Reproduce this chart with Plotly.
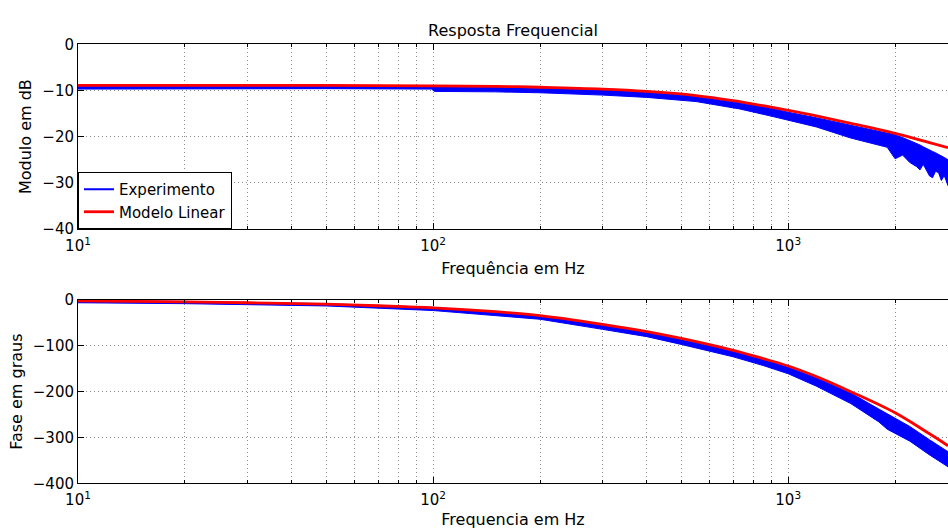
import plotly.graph_objects as go

# --- Frequency response data -------------------------------------------------
# Measured magnitude (dB): upper and lower edge of the noisy measurement band
freq_mag_exp = [10, 20, 50, 99, 101, 150, 200, 300, 400, 550, 730, 900, 1000,
                1200, 1500, 1700, 1900, 2000, 2100, 2200, 2300, 2350, 2400,
                2500, 2550, 2600, 2650, 2700, 2750, 2818]
mag_exp_hi = [-9.0, -9.0, -9.1, -9.1, -9.2, -9.3, -9.5, -9.9, -10.4, -11.3,
              -12.7, -13.9, -14.7, -15.9, -17.5, -18.4, -19.2, -19.6, -20.2,
              -20.8, -21.5, -21.8, -22.2, -23.0, -23.2, -23.5, -23.8, -24.2,
              -24.5, -25.0]
mag_exp_lo = [-9.7, -9.6, -9.6, -9.7, -10.2, -10.3, -10.5, -11.0, -11.5, -12.4,
              -14.0, -15.6, -16.4, -17.9, -20.3, -21.4, -22.3, -24.8, -24.0,
              -25.6, -26.5, -27.2, -26.0, -28.5, -28.9, -27.5, -27.8, -29.5,
              -28.4, -30.6]

# Measured phase (degrees): upper and lower edge of the measurement band
freq_ph_exp = [10, 20, 50, 100, 200, 300, 400, 500, 700, 850, 1000, 1200,
               1500, 1800, 1900, 2000, 2200, 2500, 2818]
ph_exp_hi = [-1, -3, -8, -16, -35, -55, -70, -86, -112, -130, -147, -170,
             -203, -238, -248, -258, -276, -305, -331]
ph_exp_lo = [-6, -8, -13, -23, -42, -64, -80, -97, -124, -143, -161, -188,
             -226, -266, -282, -290, -308, -338, -364]

# Linear model
freq_model = [10, 20, 50, 100, 150, 200, 300, 400, 550, 700, 850, 1000, 1200,
              1500, 2000, 2500, 2818]
mag_model = [-8.9, -8.9, -8.9, -9.0, -9.1, -9.3, -9.7, -10.2, -11.1, -12.2,
             -13.3, -14.3, -15.5, -17.1, -19.3, -21.3, -22.4]
freq_ph_model = [10, 20, 30, 50, 70, 100, 150, 200, 300, 400, 500, 700, 850,
                 1000, 1200, 1500, 2000, 2500, 2818]
ph_model = [-2, -4, -6, -9, -12.5, -17, -25.5, -34, -53, -69, -84, -110, -128,
            -144, -167, -200, -246, -292, -318]

# Axis ticks
major_x = [10, 100, 1000]
major_x_text = ["10<sup>1</sup>", "10<sup>2</sup>", "10<sup>3</sup>"]
minor_x = [20, 30, 40, 50, 60, 70, 80, 90,
           200, 300, 400, 500, 600, 700, 800, 900, 2000]
mag_ticks = [-40, -30, -20, -10, 0]
ph_ticks = [-400, -300, -200, -100, 0]

BLUE = "#0000ff"
RED = "#ff0000"
FONT = "DejaVu Sans"
W, H = 948, 529


def band(freqs, hi, lo):
    """Closed polygon around the measured band."""
    return list(freqs) + list(freqs)[::-1], list(hi) + list(lo)[::-1]


fig = go.Figure()

# Magnitude panel
bx, by = band(freq_mag_exp, mag_exp_hi, mag_exp_lo)
fig.add_trace(go.Scatter(x=bx, y=by, fill="toself", fillcolor=BLUE, mode="lines",
                         line=dict(color=BLUE, width=1), showlegend=False,
                         legendgroup="exp", hoverinfo="skip",
                         xaxis="x", yaxis="y"))
fig.add_trace(go.Scatter(x=freq_mag_exp,
                         y=[(a + b) / 2 for a, b in zip(mag_exp_hi, mag_exp_lo)],
                         mode="lines", line=dict(color=BLUE, width=2),
                         name="Experimento", legendgroup="exp",
                         xaxis="x", yaxis="y"))
fig.add_trace(go.Scatter(x=freq_model, y=mag_model, mode="lines",
                         line=dict(color=RED, width=2.8, shape="spline"),
                         name="Modelo Linear", xaxis="x", yaxis="y"))

# Phase panel
bx, by = band(freq_ph_exp, ph_exp_hi, ph_exp_lo)
fig.add_trace(go.Scatter(x=bx, y=by, fill="toself", fillcolor=BLUE, mode="lines",
                         line=dict(color=BLUE, width=1), showlegend=False,
                         hoverinfo="skip", xaxis="x2", yaxis="y2"))
fig.add_trace(go.Scatter(x=freq_ph_exp,
                         y=[(a + b) / 2 for a, b in zip(ph_exp_hi, ph_exp_lo)],
                         mode="lines", line=dict(color=BLUE, width=2),
                         showlegend=False, xaxis="x2", yaxis="y2"))
fig.add_trace(go.Scatter(x=freq_ph_model, y=ph_model, mode="lines",
                         line=dict(color=RED, width=2.8, shape="spline"),
                         showlegend=False, xaxis="x2", yaxis="y2"))

# Plot areas in pixels (top, bottom) converted to paper fractions
top_dom = [1 - 229 / H, 1 - 44.3 / H]
bot_dom = [1 - 483.3 / H, 1 - 300 / H]

grid = dict(showgrid=True, gridcolor="#8a8a8a", griddash="1px,3px", gridwidth=1)
tickfont = dict(family=FONT, size=15, color="black")
titlefont = dict(family=FONT, size=16, color="black")


def xaxis(anchor, title, standoff):
    return dict(type="log", range=[1, 3.45], domain=[0, 1], anchor=anchor,
                tickmode="array", tickvals=major_x, ticktext=major_x_text,
                ticks="inside", ticklen=6, tickcolor="black", tickwidth=1,
                showline=True, linecolor="black", linewidth=1, mirror="ticks",
                tickfont=tickfont, automargin=False, ticklabelstandoff=3,
                title=dict(text=title, font=titlefont, standoff=standoff),
                minor=dict(tickvals=minor_x, ticks="inside", ticklen=3,
                           tickcolor="black", **grid),
                zeroline=False, **grid)


def yaxis(anchor, domain, rng, ticks, title):
    return dict(range=rng, domain=domain, anchor=anchor, tickmode="array",
                tickvals=ticks, ticks="inside", ticklen=6, tickcolor="black",
                showline=True, linecolor="black", linewidth=1, mirror=False,
                tickfont=tickfont, automargin=False, zeroline=False,
                title=dict(text=title, font=titlefont, standoff=6), **grid)


fig.update_layout(
    width=W, height=H,
    margin=dict(l=78, r=0, t=0, b=0),
    paper_bgcolor="white", plot_bgcolor="white",
    font=dict(family=FONT, color="black"),
    title=dict(text="Resposta Frequencial", font=titlefont,
               x=513 / W, xref="container", xanchor="center",
               y=1 - 30 / H, yref="container", yanchor="middle"),
    xaxis=xaxis("y", "Frequência em Hz", 8),
    yaxis=yaxis("x", top_dom, [-40, 0], mag_ticks, "Modulo em dB"),
    xaxis2=xaxis("y2", "Frequencia em Hz", 11),
    yaxis2=yaxis("x2", bot_dom, [-400, 0], ph_ticks, "Fase em graus"),
    legend=dict(x=0, y=top_dom[0], xanchor="left", yanchor="bottom",
                bgcolor="white", bordercolor="black", borderwidth=1,
                font=dict(family=FONT, size=15, color="black"),
                itemwidth=30, tracegroupgap=0),
    showlegend=True,
)

fig.write_html("out.html")
